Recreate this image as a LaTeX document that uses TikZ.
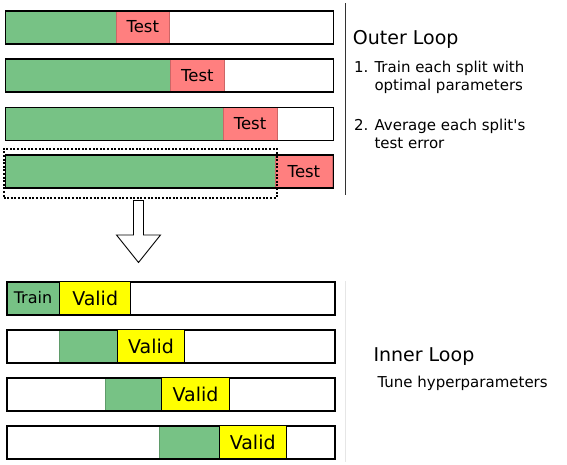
\documentclass[tikz,border=0pt]{standalone}
\usepackage{fontspec}
\setmainfont{DejaVu Sans}
\definecolor{traingreen}{HTML}{77C285}
\definecolor{testred}{HTML}{FF7F7F}
\definecolor{validyellow}{HTML}{FFFF00}
\definecolor{rulegrey}{HTML}{333333}
\definecolor{gapblue}{HTML}{5A7A9A}
\definecolor{faintgrey}{HTML}{E6E6E6}
\tikzset{
  foldpart/.style  = {rectangle, anchor=north west, inner sep=0pt, minimum height=33pt},
  foldbox/.style   = {foldpart, draw=black, line width=1.5pt, minimum width=328pt},
  trainpart/.style = {foldpart, fill=traingreen, draw=traingreen!80!black, line width=0.6pt,
                      font=\fontsize{16}{18}\selectfont},
  testpart/.style  = {foldpart, fill=testred, draw=testred!80!black, line width=0.6pt,
                      font=\fontsize{16.5}{18}\selectfont},
  validpart/.style = {foldpart, fill=validyellow, draw=black, line width=1pt,
                      font=\fontsize{19}{22}\selectfont},
  gappart/.style   = {foldpart, draw=gapblue, line width=0.6pt},
  heldout/.style   = {rectangle, anchor=north west, inner sep=0pt, draw=black, line width=2pt,
                      dash pattern=on 2pt off 1.6pt},
  looptitle/.style = {anchor=base west, inner sep=0pt, font=\fontsize{19}{22}\selectfont},
  looptext/.style  = {anchor=base west, inner sep=0pt, font=\fontsize{15}{18}\selectfont},
}

\begin{document}
\begin{tikzpicture}[x=1pt, y=-1pt]
  \useasboundingbox (0,0) rectangle (567,464);

  % outer loop: growing train part, test fold moves right
  \foreach \i/\top/\tr/\te in {1/10/115.7/169.3, 2/58.3/170.3/224, 3/106.7/222.7/276.7, 4/154.3/275.3/332}{
    \pgfmathsetmacro\gw{\tr-4.5}
    \pgfmathsetmacro\tw{\te-\tr}
    \node[trainpart, minimum width=\gw pt] (otrain\i) at (4.5,\top) {};
    \node[testpart, minimum width=\tw pt] (otest\i) at (\tr,\top) {Test};
    \node[foldbox] (outer\i) at (4.5,\top) {};
  }
  \node[heldout, minimum width=273pt, minimum height=49pt] (held) at (2.5,147.7) {};

  \draw[rulegrey, line width=1.6pt] (345.5,3) -- (345.5,194.5);
  \node[looptitle] (outertitle) at (352.7,44) {Outer Loop};
  \node[looptext] (num1) at (354,72) {1.};
  \node[looptext] (item1a) at (374.3,72) {Train each split with};
  \node[looptext] (item1b) at (374.3,90) {optimal parameters};
  \node[looptext] (num2) at (354,130) {2.};
  \node[looptext] (item2a) at (374.3,130) {Average each split\textquotesingle s};
  \node[looptext] (item2b) at (374.3,148) {test error};

  % hollow arrow down to the inner loop
  \draw[line width=0.9pt, fill=white] (133.5,200.5) -- (143.5,200.5) -- (143.5,235) -- (160.5,235)
    -- (138.5,262.5) -- (116.5,235) -- (133.5,235) -- cycle;

  % inner loop
  \node[trainpart, minimum width=53.3pt] (itrain1) at (6,281) {Train};
  \node[foldbox] (inner1) at (6,281) {};
  \node[validpart, minimum width=70.7pt] (ivalid1) at (59.3,281) {Valid};

  \node[gappart, minimum width=53.3pt] (igap2) at (6,329.3) {};
  \node[trainpart, minimum width=57.4pt] (itrain2) at (59.3,329.3) {};
  \node[foldbox] (inner2) at (6,329.3) {};
  \node[validpart, minimum width=67.6pt] (ivalid2) at (116.7,329.3) {Valid};

  \node[gappart, minimum width=98.7pt] (igap3) at (6,377.3) {};
  \node[trainpart, minimum width=56.6pt] (itrain3) at (104.7,377.3) {};
  \node[foldbox] (inner3) at (6,377.3) {};
  \node[validpart, minimum width=67.4pt] (ivalid3) at (161.3,377.3) {Valid};

  \node[gappart, minimum width=153.3pt] (igap4) at (6,425) {};
  \node[trainpart, minimum width=59.4pt] (itrain4) at (159.3,425) {};
  \node[foldbox] (inner4) at (6,425) {};
  \node[validpart, minimum width=67pt] (ivalid4) at (218.7,425) {Valid};

  \draw[faintgrey, line width=1pt] (345.5,281) -- (345.5,462);
  \node[looptitle] (innertitle) at (373.3,361.7) {Inner Loop};
  \node[looptext] (tune) at (377.3,387) {Tune hyperparameters};
\end{tikzpicture}
\end{document}
